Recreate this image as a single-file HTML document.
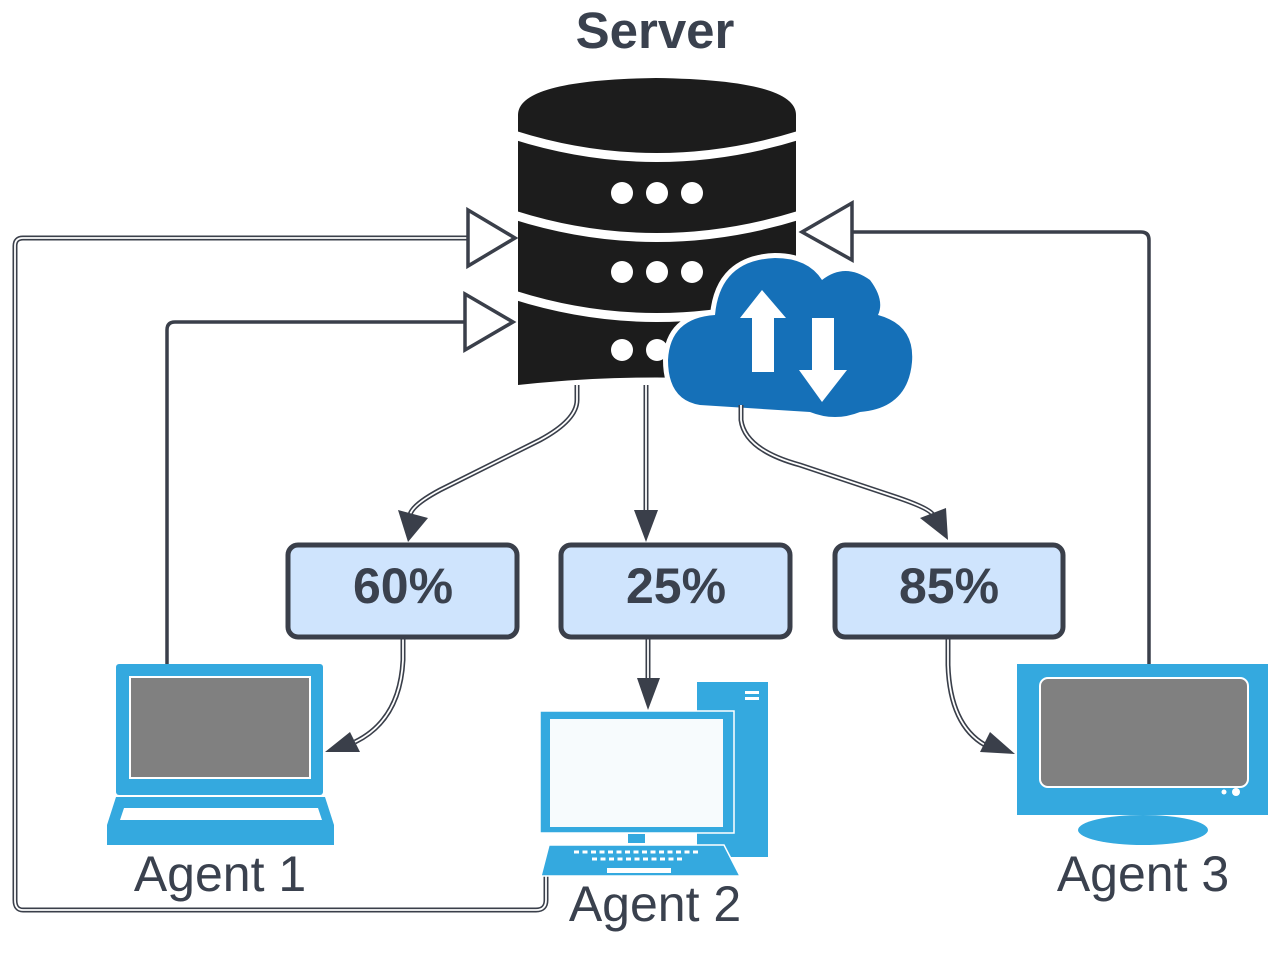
<!DOCTYPE html>
<html><head><style>body{margin:0;background:#fff}svg{display:block}</style></head><body>
<svg width="1287" height="953" viewBox="0 0 1287 953" xmlns="http://www.w3.org/2000/svg" font-family="Liberation Sans, sans-serif">
<text x="655" y="48" text-anchor="middle" font-size="51" font-weight="bold" fill="#3a414e">Server</text>

<g fill="none" stroke-linejoin="round">
<path d="M546,875 V900 Q546,910 536,910 H23 Q15,910 15,900 V246 Q15,238 23,238 H470" stroke="#3a3f4a" stroke-width="5"/>
<path d="M546,875 V900 Q546,910 536,910 H23 Q15,910 15,900 V246 Q15,238 23,238 H470" stroke="#fff" stroke-width="1.8"/>
<path d="M167,665 V330 Q167,322 175,322 H466" stroke="#3a3f4a" stroke-width="3.5"/>
<path d="M1149,665 V240 Q1149,232 1141,232 H852" stroke="#3a3f4a" stroke-width="3.5"/>
</g>
<path d="M468,210 L515,238 L468,266 z" fill="#fff" stroke="#3a3f4a" stroke-width="3.5"/>
<path d="M465,294 L513,322 L465,350 z" fill="#fff" stroke="#3a3f4a" stroke-width="3.5"/>
<path d="M852,203 L802,232 L852,260 z" fill="#fff" stroke="#3a3f4a" stroke-width="3.5"/>

<g fill="#1c1c1c">
<path d="M518,115 Q518,80 656,78 Q796,80 796,115 L796,385 Q656,370 518,385 z"/>
</g>
<g fill="none" stroke="#fff" stroke-width="9">
<path d="M514,135 Q656,180 800,135"/>
<path d="M514,215 Q656,260 800,215"/>
<path d="M514,295 Q656,340 800,295"/>
</g>
<g fill="#fff">
<circle cx="622" cy="193" r="11"/><circle cx="657" cy="193" r="11"/><circle cx="692" cy="193" r="11"/>
<circle cx="622" cy="272" r="11"/><circle cx="657" cy="272" r="11"/><circle cx="692" cy="272" r="11"/>
<circle cx="622" cy="350" r="11"/><circle cx="657" cy="350" r="11"/>
</g>
<g>
<path d="M700,405 Q668,400 668,360 Q670,318 715,315 Q720,260 775,258 Q808,258 822,280 Q845,262 870,280 Q885,300 878,315 Q915,325 912,362 Q908,408 860,412 Q835,422 810,412 Z" fill="#fff" stroke="#fff" stroke-width="10"/>
<path d="M700,405 Q668,400 668,360 Q670,318 715,315 Q720,260 775,258 Q808,258 822,280 Q845,262 870,280 Q885,300 878,315 Q915,325 912,362 Q908,408 860,412 Q835,422 810,412 Z" fill="#1570b8"/>
<path d="M762,290 L786,318 L774,318 L774,372 L752,372 L752,318 L740,318 z" fill="#fff"/>
<path d="M812,318 L834,318 L834,370 L847,370 L822,402 L799,370 L812,370 z" fill="#fff"/>
</g>

<g fill="none">
<path d="M577,385 V400 Q577,420 540,440 L440,490 Q412,505 410,515" stroke="#3a3f4a" stroke-width="5"/>
<path d="M577,385 V400 Q577,420 540,440 L440,490 Q412,505 410,515" stroke="#fff" stroke-width="1.8"/>
<path d="M646,385 V515" stroke="#3a3f4a" stroke-width="5"/><path d="M646,385 V515" stroke="#fff" stroke-width="1.8"/>
<path d="M741,405 V420 Q745,450 800,465 L890,495 Q930,508 933,515" stroke="#3a3f4a" stroke-width="5"/>
<path d="M741,405 V420 Q745,450 800,465 L890,495 Q930,508 933,515" stroke="#fff" stroke-width="1.8"/>
<path d="M403,638 V660 Q400,720 355,742" stroke="#3a3f4a" stroke-width="5"/><path d="M403,638 V660 Q400,720 355,742" stroke="#fff" stroke-width="1.8"/>
<path d="M648,638 V680" stroke="#3a3f4a" stroke-width="5"/><path d="M648,638 V680" stroke="#fff" stroke-width="1.8"/>
<path d="M948,638 V665 Q950,725 985,745" stroke="#3a3f4a" stroke-width="5"/><path d="M948,638 V665 Q950,725 985,745" stroke="#fff" stroke-width="1.8"/>
</g>
<g fill="#3a3f4a">
<path d="M398,510 L428,518 L408,542 z"/>
<path d="M634,510 L658,510 L646,542 z"/>
<path d="M920,518 L946,508 L948,540 z"/>
<path d="M325,752 L350,732 L360,752 z"/>
<path d="M637,678 L660,678 L648,710 z"/>
<path d="M1015,754 L980,752 L990,732 z"/>
</g>

<g fill="#cfe4fd" stroke="#3a3f4a" stroke-width="5">
<rect x="288" y="545" width="229" height="92" rx="10"/>
<rect x="561" y="545" width="229" height="92" rx="10"/>
<rect x="835" y="545" width="228" height="92" rx="10"/>
</g>
<g font-size="50" font-weight="bold" fill="#3a414e" text-anchor="middle">
<text x="403" y="603">60%</text><text x="676" y="603">25%</text><text x="949" y="603">85%</text>
</g>

<rect x="116" y="664" width="207" height="131" rx="3" fill="#34a9df"/>
<rect x="130" y="677" width="180" height="101" fill="#808080" stroke="#fff" stroke-width="2"/>
<path d="M116,797 L325,797 L334,825 L334,845 L107,845 L107,825 z" fill="#34a9df"/>
<path d="M124,808 L318,808 L322,820 L120,820 z" fill="#fff"/>
<rect x="1017" y="664" width="251" height="151" fill="#34a9df"/>
<rect x="1040" y="678" width="208" height="109" rx="8" fill="#808080" stroke="#fff" stroke-width="2"/>
<circle cx="1236" cy="792" r="4" fill="#fff"/><circle cx="1224" cy="792" r="2.5" fill="#fff"/>
<ellipse cx="1143" cy="830" rx="65" ry="15" fill="#34a9df"/>
<rect x="697" y="682" width="71" height="175" fill="#34a9df"/>
<rect x="745" y="691" width="14" height="3" fill="#fff"/><rect x="745" y="697" width="14" height="3" fill="#fff"/>
<rect x="540" y="711" width="194" height="122" fill="#34a9df" stroke="#fff" stroke-width="1.5"/>
<rect x="550" y="719" width="173" height="108" fill="#f7fbfd"/>
<rect x="628" y="834" width="17" height="9" fill="#34a9df"/>
<path d="M549,845 L724,845 L740,876 L541,876 z" fill="#34a9df" stroke="#fff" stroke-width="1.5"/>
<g stroke="#fff" stroke-width="3" stroke-dasharray="5,3.5"><path d="M574,852 H700"/><path d="M592,859 H684"/></g>
<rect x="607" y="868" width="64" height="5" fill="#fff"/>

<g font-size="50" fill="#3a414e" text-anchor="middle">
<text x="220" y="891">Agent 1</text><text x="655" y="921">Agent 2</text><text x="1143" y="891">Agent 3</text>
</g>
</svg>
</body></html>
